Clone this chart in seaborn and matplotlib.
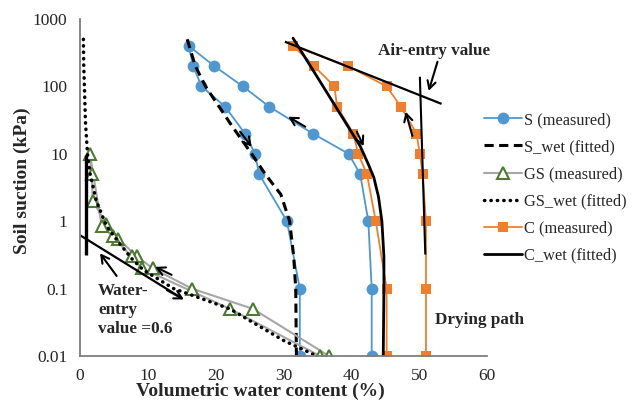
import numpy as np
import seaborn as sns
import matplotlib
matplotlib.use("Agg")
import matplotlib.pyplot as plt
from matplotlib.ticker import MultipleLocator, LogLocator, FixedLocator, FixedFormatter, NullFormatter

# --- dati ---
# S (misurato): ramo di essiccamento (dal basso verso l'alto), picco, ramo di imbibizione
s_dry_x = [43.0, 43.0, 42.5, 41.3, 39.6, 34.3, 27.9, 24.0, 19.8]
s_dry_y = [0.01, 0.1, 1, 5, 10, 20, 50, 100, 200]
s_top_x = [16.0]
s_top_y = [400]
s_wet_x = [16.7, 17.9, 21.4, 24.3, 25.8, 26.4, 30.5, 32.4, 32.4]
s_wet_y = [200, 100, 50, 20, 10, 5, 1, 0.1, 0.01]

# S_wet (fitted)
s_fit_x = [15.8, 17.0, 18.5, 20.5, 22.5, 25.3, 27.3, 29.6, 30.9, 31.5, 31.8, 31.9]
s_fit_y = [500, 200, 100, 50, 25, 10, 5, 2.5, 1, 0.3, 0.1, 0.01]

# GS (misurato)
gs_dry_x = [36.7, 25.5, 16.5, 10.7, 8.4, 5.6, 3.9, 1.9, 1.7, 1.45]
gs_dry_y = [0.01, 0.05, 0.1, 0.2, 0.3, 0.55, 0.9, 2, 5, 10]
gs_wet_x = [3.2, 4.8, 7.6, 9.1, 22.1, 35.4]
gs_wet_y = [0.85, 0.6, 0.3, 0.2, 0.05, 0.01]

# GS_wet (fitted)
gs_fit_x = [0.5, 0.55, 0.65, 0.8, 1.1, 1.5, 2.4, 3.9, 5.6, 7.6, 9.3, 13.8, 22.1, 30.0, 34.9]
gs_fit_y = [500, 200, 100, 30, 10, 5, 2, 0.85, 0.5, 0.28, 0.19, 0.1, 0.05, 0.017, 0.01]

# C (misurato)
c_dry_x = [51.0, 51.0, 51.0, 50.5, 50.1, 49.6, 47.3, 45.2, 39.5]
c_dry_y = [0.01, 0.1, 1, 5, 10, 20, 50, 100, 200]
c_top_x = [31.4]
c_top_y = [400]
c_wet_x = [34.5, 37.5, 37.9, 40.3, 41.0, 42.3, 43.6, 45.2, 45.2]
c_wet_y = [200, 100, 50, 20, 10, 5, 1, 0.1, 0.01]

# C_wet (fitted)
c_fit_x = [31.4, 36.5, 41.3, 42.5, 43.3, 44.0, 44.5, 44.8, 44.8, 44.7]
c_fit_y = [520, 78, 13, 7, 4.5, 2.3, 1, 0.3, 0.1, 0.01]

# linee ausiliarie (tangenti)
air_x = [30.2, 53.3]
air_y = [460, 55]
dry_path_x = [50.1, 50.9]
dry_path_y = [139, 0.32]
we_vert_x = [0.9, 0.9]
we_vert_y = [9.6, 0.32]
we_tan_x = [0.0, 15.0]
we_tan_y = [0.62, 0.072]

# frecce: (punta, coda)
arrows = [
    ((25.3, 12.7), (23.6, 21.3)),
    ((30.7, 35.5), (33.2, 25.2)),
    ((48.0, 42.0), (49.0, 18.4)),
    ((41.8, 13.0), (40.8, 21.3)),
    ((11.1, 0.21), (13.5, 0.16)),
    ((15.3, 0.069), (12.8, 0.095)),
    ((2.95, 0.334), (5.4, 0.154)),
    ((51.4, 86.0), (52.7, 232.0)),
]

y_ticks = [0.01, 0.1, 1, 10, 100, 1000]
y_labels = ["0.01", "0.1", "1", "10", "100", "1000"]

BLUE = "#4E97D1"
ORANGE = "#F07F2C"
GREEN = "#4E7A33"
GRAY = "#A6A6A6"
AXC = "#7F7F7F"

sns.set_style("white")
plt.rcParams["font.family"] = ["Liberation Serif", "DejaVu Serif"]

fig = plt.figure(figsize=(6.33, 4.03), dpi=100)
ax = fig.add_axes([0.1264, 0.1166, 0.643, 0.8363])

sns.lineplot(x=s_dry_x + s_top_x + s_wet_x, y=s_dry_y + s_top_y + s_wet_y, sort=False,
             estimator=None, color=BLUE, lw=1.3, marker="o", markersize=8.5,
             markeredgewidth=0, label="S (measured)", ax=ax)
sns.lineplot(x=s_fit_x, y=s_fit_y, sort=False, estimator=None, color="black", lw=2.2,
             linestyle=(0, (3, 1.8)), label="S_wet (fitted)", ax=ax)
sns.lineplot(x=gs_dry_x + gs_wet_x, y=gs_dry_y + gs_wet_y, sort=False, estimator=None,
             color=GRAY, lw=1.5, marker="^", markersize=8, markerfacecolor="white",
             markeredgecolor=GREEN, markeredgewidth=1.5, label="GS (measured)", ax=ax)
sns.lineplot(x=gs_fit_x, y=gs_fit_y, sort=False, estimator=None, color="black", lw=2.5,
             linestyle=(0, (0.1, 1.75)), dash_capstyle="round", label="GS_wet (fitted)", ax=ax)
sns.lineplot(x=c_dry_x + c_top_x + c_wet_x, y=c_dry_y + c_top_y + c_wet_y, sort=False,
             estimator=None, color=ORANGE, lw=1.3, marker="s", markersize=7.2,
             markeredgewidth=0, label="C (measured)", ax=ax)
sns.lineplot(x=c_fit_x, y=c_fit_y, sort=False, estimator=None, color="black", lw=2.0,
             label="C_wet (fitted)", ax=ax)

handles, labels = ax.get_legend_handles_labels()

# tangenti
for xs, ys, w in [(air_x, air_y, 1.6), (dry_path_x, dry_path_y, 1.5),
                  (we_vert_x, we_vert_y, 2.4), (we_tan_x, we_tan_y, 1.6)]:
    ax.plot(xs, ys, color="black", lw=w, solid_capstyle="butt")

for tip, tail in arrows:
    ax.annotate("", xy=tip, xytext=tail,
                arrowprops=dict(arrowstyle="->,head_length=0.55,head_width=0.3",
                                color="black", lw=1.5, shrinkA=0, shrinkB=0))

ax.text(52.2, 330, "Air-entry value", ha="center", va="center", fontsize=12.3, fontweight="bold")
ax.text(2.65, 0.048, "Water-\nentry\nvalue =0.6", ha="left", va="center", fontsize=12.3,
        fontweight="bold", linespacing=1.25)
ax.text(58.9, 0.034, "Drying path", ha="center", va="center", fontsize=12.3, fontweight="bold")

ax.set_xlim(0, 60)
ax.set_yscale("log")
ax.set_ylim(0.01, 1000)
ax.xaxis.set_major_locator(MultipleLocator(10))
ax.xaxis.set_minor_locator(MultipleLocator(2))
ax.yaxis.set_major_locator(FixedLocator(y_ticks))
ax.yaxis.set_major_formatter(FixedFormatter(y_labels))
ax.yaxis.set_minor_locator(LogLocator(base=10, subs=np.arange(2, 10)))
ax.yaxis.set_minor_formatter(NullFormatter())

ax.tick_params(axis="both", which="both", direction="in", color=AXC, labelsize=12.5)
ax.tick_params(axis="y", which="major", length=5, pad=9)
ax.tick_params(axis="y", which="minor", length=4)
ax.tick_params(axis="x", which="major", length=5, pad=8.5)
ax.tick_params(axis="x", which="minor", length=4)

for side in ["top", "right"]:
    ax.spines[side].set_visible(False)
for side in ["left", "bottom"]:
    ax.spines[side].set_color(AXC)
    ax.spines[side].set_linewidth(1.3)

ax.set_xlabel("Volumetric water content (%)", fontsize=14, fontweight="bold")
ax.set_ylabel("Soil suction (kPa)", fontsize=14, fontweight="bold")
ax.xaxis.set_label_coords(0.442, -0.08)
ax.yaxis.set_label_coords(-0.12, 0.519)

ax.legend(handles, labels, loc="upper left", bbox_to_anchor=(484 / 633, 1 - 112 / 403),
          bbox_transform=fig.transFigure, frameon=False, fontsize=11.8,
          handlelength=2.3, handletextpad=0.12, borderpad=0, borderaxespad=0,
          labelspacing=0.68)

fig.savefig("out.png", dpi=100)
